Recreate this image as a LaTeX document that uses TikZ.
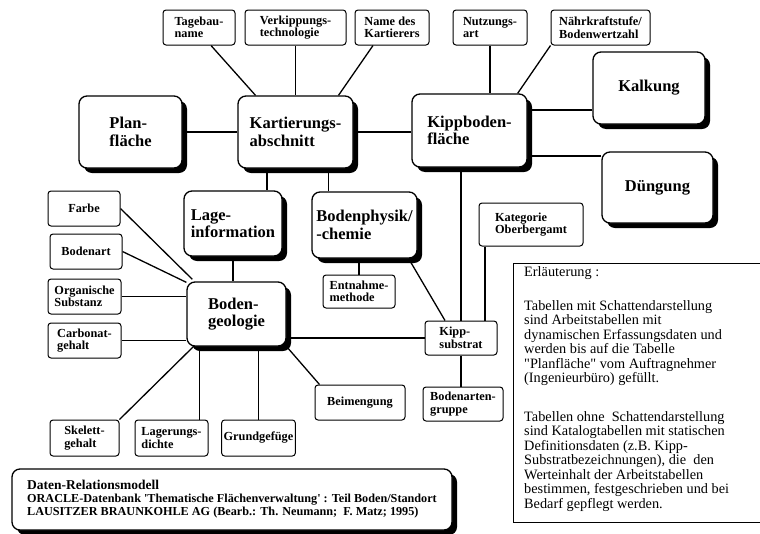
\documentclass[tikz,border=0pt]{standalone}
\usepackage{fontspec}
\setmainfont{Liberation Serif}
\usetikzlibrary{shadows,backgrounds}

\tikzset{
  arbtab/.style={draw, line width=1.3pt, rounded corners=8pt, fill=white,
    drop shadow={shadow xshift=5pt, shadow yshift=-5pt, opacity=1, fill=black},
    align=left, inner sep=2pt, font=\bfseries\fontsize{16.5}{17.5}\selectfont},
  kattab/.style={draw, line width=1pt, rounded corners=3pt, fill=white,
    align=left, inner sep=2pt, font=\bfseries\fontsize{12.3}{12.5}\selectfont},
  verb/.style={line width=1.3pt}
}

\begin{document}
\begin{tikzpicture}[x=1pt,y=-1pt]
    \useasboundingbox (0,0) rectangle (760,533);

    % Arbeitstabellen
    \node[arbtab, minimum width=103pt, minimum height=72pt] (plan) at (130.5,132) {Plan-\\fläche};
    \node[arbtab, minimum width=115pt, minimum height=72pt] (kart) at (295.5,132) {Kartierungs-\\abschnitt};
    \node[arbtab, minimum width=115pt, minimum height=73pt] (kipp) at (469.5,130.5) {Kippboden-\\fläche};
    \node[arbtab, minimum width=112pt, minimum height=72pt] (kalk) at (649,88) {Kalkung};
    \node[arbtab, minimum width=111pt, minimum height=71pt] (dueng) at (657.5,187.5) {Düngung};
    \node[arbtab, minimum width=98pt, minimum height=65pt] (lage) at (233,223.5) {Lage-\\information};
    \node[arbtab, minimum width=105pt, minimum height=66pt] (phys) at (364.5,225) {Bodenphysik/\\-chemie};
    \node[arbtab, minimum width=99pt, minimum height=64pt] (geo) at (236.5,314) {Boden-\\geologie};

    % Katalogtabellen
    \node[kattab, minimum width=72pt, minimum height=35pt] (tageb) at (199,27.5) {Tagebau-\\name};
    \node[kattab, minimum width=101pt, minimum height=35pt] (verk) at (295.5,27.5) {Verkippungs-\\technologie};
    \node[kattab, minimum width=74pt, minimum height=35pt] (kname) at (392,27.5) {Name des\\Kartierers};
    \node[kattab, minimum width=74pt, minimum height=35pt] (nutz) at (490,27.5) {Nutzungs-\\art};
    \node[kattab, minimum width=99pt, minimum height=35pt] (naehr) at (600.5,27.5) {Nährkraftstufe/\\Bodenwertzahl};
    \node[kattab, minimum width=72pt, minimum height=35pt] (farbe) at (84,208.5) {Farbe};
    \node[kattab, minimum width=72pt, minimum height=35pt] (bart) at (86,251.5) {Bodenart};
    \node[kattab, minimum width=73pt, minimum height=35pt] (orgs) at (84.5,296.5) {Organische\\Substanz};
    \node[kattab, minimum width=73pt, minimum height=35pt] (carb) at (84.5,340.5) {Carbonat-\\gehalt};
    \node[kattab, minimum width=72pt, minimum height=33pt] (entn) at (359,291.5) {Entnahme-\\methode};
    \node[kattab, minimum width=104pt, minimum height=43pt] (kat) at (531,224.5) {Kategorie\\Oberbergamt};
    \node[kattab, minimum width=72pt, minimum height=34pt] (ksub) at (461,338) {Kipp-\\substrat};
    \node[kattab, minimum width=80pt, minimum height=34pt] (bag) at (463,404) {Bodenarten-\\gruppe};
    \node[kattab, minimum width=90pt, minimum height=35pt] (beim) at (360,402.5) {Beimengung};
    \node[kattab, minimum width=69pt, minimum height=36pt] (skel) at (84.5,438) {Skelett-\\gehalt};
    \node[kattab, minimum width=73pt, minimum height=36pt] (lagd) at (171.5,438) {Lagerungs-\\dichte};
    \node[kattab, minimum width=73pt, minimum height=36pt] (grund) at (258.5,438) {Grundgefüge};

    % Titel und Erlaeuterung
    \node[arbtab, minimum width=440pt, minimum height=61pt, font=\bfseries\fontsize{12.2}{13}\selectfont] (titel) at (232,499.5)
        {{\fontsize{13.5}{13}\selectfont Daten-Relationsmodell}\\
         ORACLE-Datenbank \textquotesingle Thematische Flächenverwaltung\textquotesingle\ : Teil Boden/Standort\\
         LAUSITZER BRAUNKOHLE AG (Bearb.: Th. Neumann;\ \ F. Matz; 1995)};
    \node[draw, line width=1.3pt, minimum width=250pt, minimum height=259pt, anchor=north west] (erl) at (513,263) {};
    \node[anchor=north west, inner sep=0pt, align=left, font=\fontsize{14.3}{14.5}\selectfont] (erltext) at (524,266)
        {Erläuterung :\\[19.5pt]
         Tabellen mit Schattendarstellung\\
         sind Arbeitstabellen mit\\
         dynamischen Erfassungsdaten und\\
         werden bis auf die Tabelle\\
         \textquotedbl Planfläche\textquotedbl\ vom Auftragnehmer\\
         (Ingenieurbüro) gefüllt.\\[24pt]
         Tabellen ohne\ \ Schattendarstellung\\
         sind Katalogtabellen mit statischen\\
         Definitionsdaten (z.B. Kipp-\\
         Substratbezeichnungen), die\ \ den\\
         Werteinhalt der Arbeitstabellen\\
         bestimmen, festgeschrieben und bei\\
         Bedarf gepflegt werden.};

    \begin{scope}[on background layer]
    \draw[verb] ([xshift=12pt]tageb.south) -- ([xshift=-40pt]kart.north);
    \draw[verb] (verk.south) -- (kart.north);
    \draw[verb] ([xshift=-19pt]kname.south) -- ([xshift=43pt]kart.north);
    \draw[verb] (nutz.south) -- (nutz.south |- kipp.north);
    \draw[verb] (naehr.south west) -- ([xshift=-10pt]kipp.north east);
    \draw[verb] (plan.east) -- (kart.west);
    \draw[verb] (kart.east) -- (kart.east -| kipp.west);
    \draw[verb] ([yshift=-22pt]kalk.west) -- ([yshift=-22pt]kalk.west -| kipp.east);
    \draw[verb] ([yshift=31.5pt]dueng.west) -- ([yshift=31.5pt]dueng.west -| kipp.east);
    \draw[verb] ([xshift=-28.5pt]kart.south) -- ([xshift=-28.5pt]kart.south |- lage.north);
    \draw[verb] ([xshift=33pt]kart.south) -- ([xshift=33pt]kart.south |- phys.north);
    \draw[verb] (entn.north |- phys.south) -- (entn.north);
    \draw[verb] ([xshift=-9pt]phys.south east) -- ([xshift=-16pt]ksub.north);
    \draw[verb] (kipp.south -| ksub.north) -- (ksub.north);
    \draw[verb] (ksub.south) -- (ksub.south |- bag.north);
    \draw[verb] ([xshift=-46pt]kat.south) -- ([xshift=-46pt]kat.south |- ksub.north);
    \draw[verb] (ksub.west) -- (ksub.west -| geo.east);
    \draw[verb] (lage.south) -- (lage.south |- geo.north);
    \draw[verb] (farbe.east) -- ([shift={(6pt,2pt)}]geo.north west);
    \draw[verb] (bart.east) -- ([yshift=-1pt]geo.north west);
    \draw[verb] (orgs.east) -- (orgs.east -| geo.west);
    \draw[verb] (carb.east) -- (carb.east -| geo.west);
    \draw[verb] ([xshift=7pt]geo.south west) -- (skel.north east);
    \draw[verb] ([xshift=13pt]geo.south west) -- ([xshift=13pt]geo.south west |- lagd.north);
    \draw[verb] (grund.north) -- (grund.north |- geo.south);
    \draw[verb] (geo.south east) -- ([xshift=5pt]beim.north west);
    \end{scope}
\end{tikzpicture}
\end{document}
